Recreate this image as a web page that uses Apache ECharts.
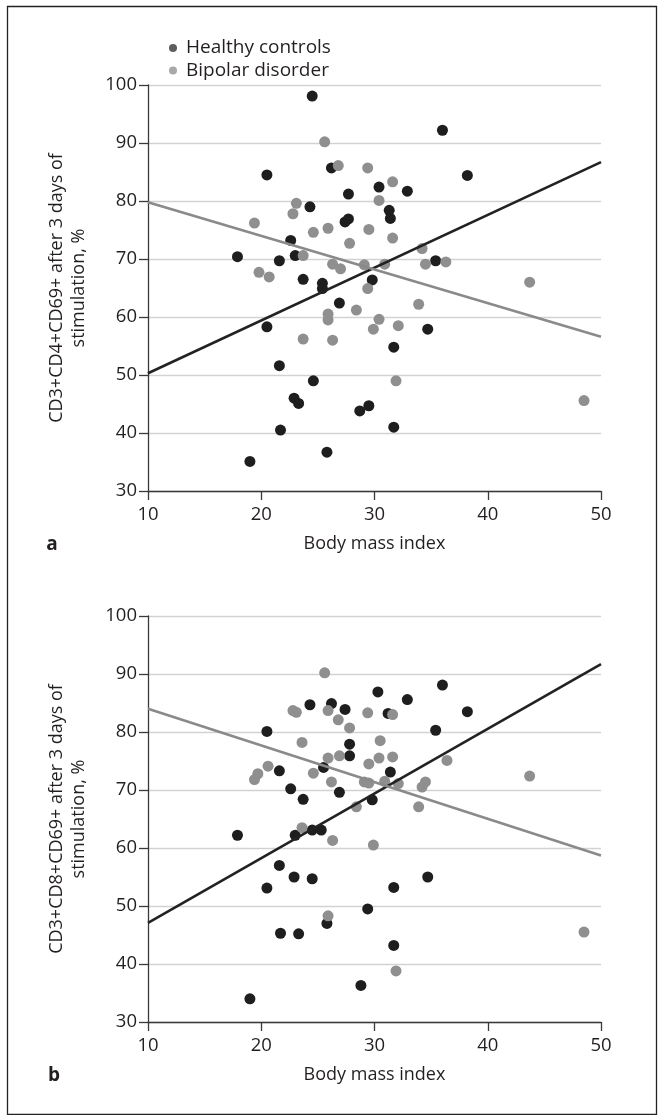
<!DOCTYPE html>
<html><head><meta charset="utf-8">
<script src="https://cdn.jsdelivr.net/npm/echarts@6/dist/echarts.min.js"></script>
<style>html,body{margin:0;padding:0;background:#fff}#c{width:664px;height:1115px}</style>
</head><body><div id="c"></div>
<script>
const xTicks = [10, 20, 30, 40, 50];
const yTicks = [30, 40, 50, 60, 70, 80, 90, 100];
const seriesNames = ['Healthy controls', 'Bipolar disorder'];
const xTitle = 'Body mass index';
const yTitleA = 'CD3+CD4+CD69+ after 3 days of\nstimulation, %';
const yTitleB = 'CD3+CD8+CD69+ after 3 days of\nstimulation, %';
const panelLabels = ['a', 'b'];

// Panel a
const healthyA = [
  [24.5,98.1],[20.5,84.5],[26.2,85.7],[27.7,81.2],[24.3,79.0],[27.4,76.4],[27.7,76.9],
  [22.6,73.2],[23.0,70.6],[17.9,70.4],[21.6,69.7],[23.7,66.5],[25.4,65.8],[25.4,64.9],
  [29.8,66.4],[30.4,82.4],[26.9,62.4],[36.0,92.2],[38.2,84.4],[32.9,81.7],[31.3,78.4],
  [31.4,77.0],[35.4,69.7],[20.5,58.3],[21.6,51.6],[24.6,49.0],[22.9,46.0],[23.3,45.1],
  [28.7,43.8],[29.5,44.7],[21.7,40.5],[25.8,36.7],[19.0,35.1],[34.7,57.9],[31.7,54.8],
  [31.7,41.0]
];
const bipolarA = [
  [25.6,90.2],[26.8,86.1],[29.4,85.7],[30.4,80.1],[23.1,79.6],[22.8,77.8],[19.4,76.2],
  [25.9,75.3],[24.6,74.6],[29.5,75.1],[27.8,72.7],[23.7,70.6],[19.8,67.7],[20.7,66.9],
  [26.3,69.1],[27.0,68.3],[29.1,69.0],[29.4,64.9],[31.6,83.3],[31.6,73.6],[34.2,71.8],
  [30.9,69.1],[34.5,69.1],[36.3,69.5],[43.7,66.0],[33.9,62.2],[25.9,60.5],[25.9,59.5],
  [28.4,61.2],[23.7,56.2],[26.3,56.0],[29.9,57.9],[30.4,59.6],[32.1,58.5],[31.9,49.0],
  [48.5,45.6]
];
const trendHealthyA = [[10, 50.3], [50, 86.7]];
const trendBipolarA = [[10, 79.8], [50, 56.6]];

// Panel b
const healthyB = [
  [30.3,86.9],[24.3,84.7],[26.2,84.9],[27.4,83.9],[20.5,80.1],[27.8,77.9],[27.8,75.9],
  [21.6,73.3],[25.5,73.9],[22.6,70.2],[23.7,68.4],[26.9,69.6],[29.8,68.3],[36.0,88.1],
  [32.9,85.6],[31.2,83.2],[38.2,83.5],[35.4,80.3],[31.4,73.1],[17.9,62.2],[23.0,62.2],
  [24.5,63.1],[25.3,63.1],[21.6,57.0],[22.9,55.0],[24.5,54.7],[20.5,53.1],[29.4,49.5],
  [25.8,47.0],[21.7,45.3],[23.3,45.2],[28.8,36.3],[19.0,34.0],[34.7,55.0],[31.7,53.2],
  [31.7,43.2]
];
const bipolarB = [
  [25.6,90.2],[22.8,83.7],[23.1,83.4],[25.9,83.7],[29.4,83.3],[26.8,82.1],[27.8,80.7],
  [23.6,78.2],[30.5,78.5],[25.9,75.5],[26.9,75.9],[29.5,74.5],[30.4,75.5],[20.6,74.1],
  [19.7,72.8],[19.4,71.8],[24.6,72.9],[26.2,71.4],[29.1,71.4],[29.5,71.2],[28.4,67.1],
  [23.6,63.5],[31.6,83.0],[31.6,75.7],[36.4,75.1],[30.9,71.5],[32.1,71.1],[34.2,70.5],
  [34.5,71.4],[43.7,72.4],[33.9,67.1],[26.3,61.3],[29.9,60.5],[25.9,48.3],[31.9,38.8],
  [48.5,45.5]
];
const trendHealthyB = [[10, 47.1], [50, 91.7]];
const trendBipolarB = [[10, 84.0], [50, 58.7]];

const FONT = '"Open Sans", "Noto Sans", sans-serif';
const TXT = '#231f20';
const AXIS = '#3a3a3a';
const DARK = '#1e1e1e';
const GRAY = '#8f8f8f';

function xAxisCfg(i) {
  return {
    type: 'value', gridIndex: i,
    min: xTicks[0], max: xTicks[xTicks.length - 1], interval: xTicks[1] - xTicks[0],
    axisLine: { show: true, onZero: false, lineStyle: { color: AXIS, width: 1.3 } },
    axisTick: { show: true, length: 9, lineStyle: { color: AXIS, width: 1.3 } },
    splitLine: { show: false },
    axisLabel: { fontSize: 18.5, color: TXT, margin: 14, fontFamily: FONT },
    name: xTitle, nameLocation: 'middle', nameGap: 44,
    nameTextStyle: { fontSize: 18, color: TXT, fontFamily: FONT }
  };
}
function yAxisCfg(i, title) {
  return {
    type: 'value', gridIndex: i,
    min: yTicks[0], max: yTicks[yTicks.length - 1], interval: yTicks[1] - yTicks[0],
    axisLine: { show: true, lineStyle: { color: AXIS, width: 1.3 } },
    axisTick: { show: true, length: 9, lineStyle: { color: AXIS, width: 1.3 } },
    splitLine: { show: true, lineStyle: { color: '#d2d2d2', width: 1.3 } },
    axisLabel: { fontSize: 18.5, color: TXT, margin: 11, fontFamily: FONT },
    name: title, nameLocation: 'middle', nameRotate: 90, nameGap: 58,
    nameTextStyle: { fontSize: 18, color: TXT, fontFamily: FONT, lineHeight: 22 }
  };
}
function scatter(name, data, i, color) {
  return { type: 'scatter', name: name, xAxisIndex: i, yAxisIndex: i, data: data,
    symbol: 'circle', symbolSize: 11, itemStyle: { color: color, opacity: 1 }, z: 2, silent: true };
}
function trend(data, i, color) {
  return { type: 'line', xAxisIndex: i, yAxisIndex: i, data: data, symbol: 'none',
    lineStyle: { color: color, width: 2.6 }, z: 3, silent: true, animation: false };
}

const chart = echarts.init(document.getElementById('c'), null, { renderer: 'canvas' });
chart.setOption({
  animation: false,
  backgroundColor: '#fff',
  textStyle: { fontFamily: FONT },
  grid: [
    { left: 148, top: 85, width: 453, height: 406 },
    { left: 148, top: 616, width: 453, height: 406 }
  ],
  legend: {
    orient: 'vertical', left: 164, top: 33,
    itemWidth: 16, itemHeight: 8, itemGap: 2.4, icon: 'circle',
    textStyle: { fontSize: 19, color: TXT, fontFamily: FONT, lineHeight: 20 },
    data: [
      { name: seriesNames[0], itemStyle: { color: '#5e5e5e' } },
      { name: seriesNames[1], itemStyle: { color: '#a8a8a8' } }
    ],
    selectedMode: false
  },
  xAxis: [xAxisCfg(0), xAxisCfg(1)],
  yAxis: [yAxisCfg(0, yTitleA), yAxisCfg(1, yTitleB)],
  series: [
    scatter(seriesNames[0], healthyA, 0, DARK),
    scatter(seriesNames[1], bipolarA, 0, GRAY),
    trend(trendHealthyA, 0, '#222222'),
    trend(trendBipolarA, 0, '#8a8a8a'),
    scatter(seriesNames[0], healthyB, 1, DARK),
    scatter(seriesNames[1], bipolarB, 1, GRAY),
    trend(trendHealthyB, 1, '#222222'),
    trend(trendBipolarB, 1, '#8a8a8a')
  ],
  graphic: [
    { type: 'rect', silent: true, shape: { x: 7.5, y: 6.5, width: 649, height: 1108 },
      style: { fill: 'none', stroke: '#222', lineWidth: 1.3 } },
    { type: 'text', x: 52, y: 545, silent: true,
      style: { text: panelLabels[0], font: 'bold 19px ' + FONT, fill: TXT, align: 'center', verticalAlign: 'middle' } },
    { type: 'text', x: 54, y: 1076, silent: true,
      style: { text: panelLabels[1], font: 'bold 19px ' + FONT, fill: TXT, align: 'center', verticalAlign: 'middle' } }
  ]
});
</script>
</body></html>
